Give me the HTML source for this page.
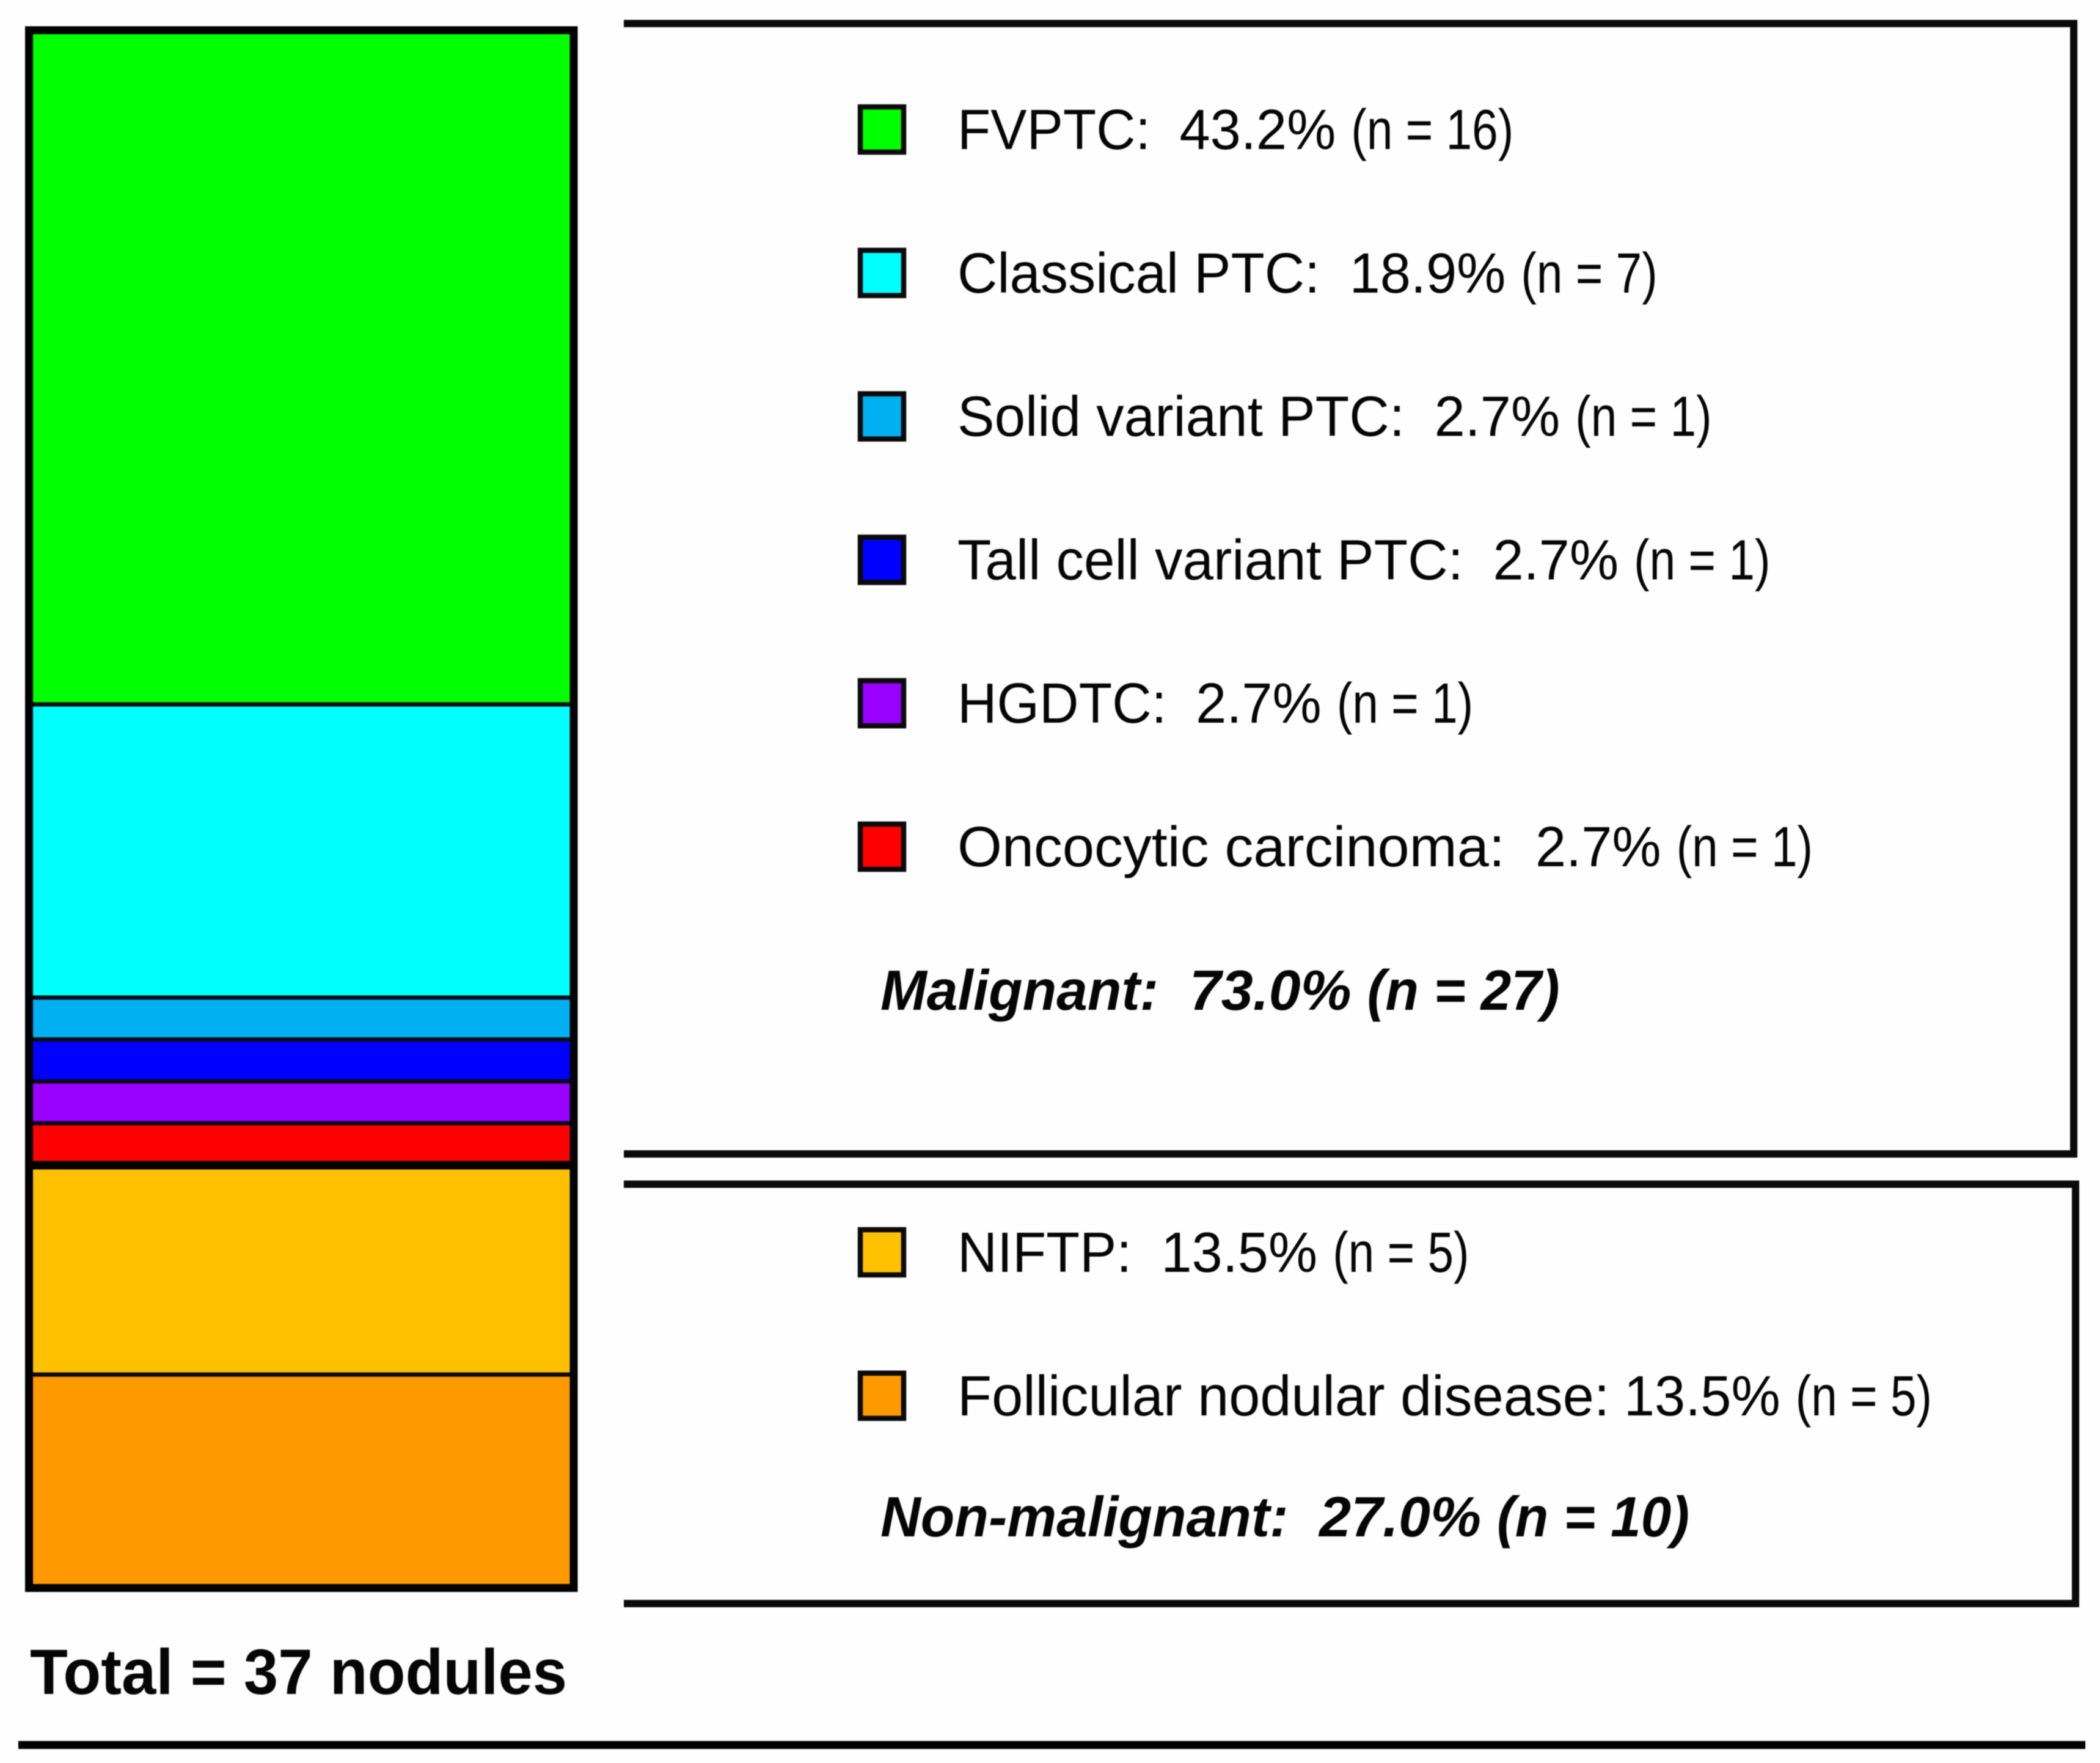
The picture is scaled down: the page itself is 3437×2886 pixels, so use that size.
<!DOCTYPE html>
<html lang="en">
<head>
<meta charset="utf-8">
<title>Histology of 37 nodules</title>
<style>
html,body{margin:0;padding:0;background:#fefefe;width:3437px;height:2886px;overflow:hidden}
svg{display:block;filter:blur(0.9px)}
text{font-family:"Liberation Sans",Arial,sans-serif;fill:#050505;white-space:pre}
</style>
</head>
<body>
<svg id="chart" xmlns="http://www.w3.org/2000/svg" width="3437" height="2886" viewBox="0 0 3437 2886">
  <rect x="0" y="0" width="3437" height="2886" fill="#fefefe"/>
  <g id="bar-segments"></g>
  <rect x="47.5" y="49.5" width="891.5" height="2550" fill="none" stroke="#020205" stroke-width="13"/>
  <polyline points="1021,38.5 3394,38.5 3394,1889 1021,1889" fill="none" stroke="#0a0a0a" stroke-width="12"/>
  <polyline points="1021,1938.5 3397,1938.5 3397,2625 1021,2625" fill="none" stroke="#0a0a0a" stroke-width="12"/>
  <g id="legend"></g>
  <g id="summaries"></g>
  <text transform="translate(49,2773) scale(0.965,1)" font-size="105" font-weight="700">Total = 37 nodules</text>
  <rect x="30" y="2850" width="3383" height="13" fill="#000"/>
</svg>
<script>
// Chart data
const categories = ["FVPTC", "Classical PTC", "Solid variant PTC", "Tall cell variant PTC", "HGDTC", "Oncocytic carcinoma", "NIFTP", "Follicular nodular disease"];
const counts = [16, 7, 1, 1, 1, 1, 5, 5];
const percentLabels = ["43.2%", "18.9%", "2.7%", "2.7%", "2.7%", "2.7%", "13.5%", "13.5%"];
const colors = ["#00ff00", "#00ffff", "#00b0f0", "#0000ff", "#9900ff", "#ff0000", "#ffc000", "#ff9900"];
const groupOfCategory = [0, 0, 0, 0, 0, 0, 1, 1];
const labelSpacers = ["  ", "  ", "  ", "  ", "  ", "  ", "  ", " "];
const groupNames = ["Malignant", "Non-malignant"];
const groupPercentLabels = ["73.0%", "27.0%"];
const groupCounts = [27, 10];

// Typography tuning (not data): horizontal condensing of each legend label
const labelStretch = [0.956, 0.973, 0.977, 0.977, 0.961, 1.008, 0.969, 0.988];

const NS = "http://www.w3.org/2000/svg";
const barLeft = 54, barRight = 933, barTop = 56, barBottom = 2593;
const total = counts.reduce(function (a, b) { return a + b; }, 0);

// Axis: cumulative nodule count -> vertical pixel
function yScale(v) { return barTop + (barBottom - barTop) * v / total; }

const barGroup = document.getElementById("bar-segments");
let cumulative = 0;
counts.forEach(function (v, i) {
  const r = document.createElementNS(NS, "rect");
  r.setAttribute("x", barLeft);
  r.setAttribute("y", yScale(cumulative));
  r.setAttribute("width", barRight - barLeft);
  r.setAttribute("height", yScale(cumulative + v) - yScale(cumulative));
  r.setAttribute("fill", colors[i]);
  
  
  barGroup.appendChild(r);
  cumulative += v;
});
cumulative = 0;
counts.forEach(function (v, i) {
  cumulative += v;
  if (i === counts.length - 1) return;
  const boundary = groupOfCategory[i] !== groupOfCategory[i + 1];
  const l = document.createElementNS(NS, "line");
  l.setAttribute("x1", barLeft);
  l.setAttribute("x2", barRight);
  l.setAttribute("y1", yScale(cumulative));
  l.setAttribute("y2", yScale(cumulative));
  l.setAttribute("stroke", boundary ? "#000" : "#0b0b16");
  l.setAttribute("stroke-width", boundary ? 14 : 7);
  
  
  barGroup.appendChild(l);
});

// Text helper: draws a run horizontally condensed by sx and returns the next x
function textRun(parent, str, x, y, sx, bold) {
  const t = document.createElementNS(NS, "text");
  t.setAttribute("transform", "translate(" + x + "," + y + ") scale(" + sx + ",1)");
  t.setAttribute("font-size", 93);
  if (bold) {
    t.setAttribute("font-weight", "700");
    t.setAttribute("font-style", "italic");
  }
  t.setAttribute("xml:space", "preserve");
  t.textContent = str;
  parent.appendChild(t);
  return { el: t, next: x + t.getComputedTextLength() * sx };
}

// Legend rows
const legendGroup = document.getElementById("legend");
const rowBaselines = [244, 2082];
const rowStep = 234.8;
const rowsSeen = [0, 0];
categories.forEach(function (name, i) {
  const g = groupOfCategory[i];
  const base = rowBaselines[g] + rowStep * rowsSeen[g];
  rowsSeen[g] += 1;

  const sw = document.createElementNS(NS, "rect");
  sw.setAttribute("x", 1408);
  sw.setAttribute("y", base - 69);
  sw.setAttribute("width", 71);
  sw.setAttribute("height", 74);
  sw.setAttribute("fill", colors[i]);
  sw.setAttribute("stroke", "#0a0a0a");
  sw.setAttribute("stroke-width", 8.5);
  
  
  legendGroup.appendChild(sw);

  const a = textRun(legendGroup, name + ":" + labelSpacers[i], 1567, base, labelStretch[i], false);
  
  
  const b = textRun(legendGroup, percentLabels[i] + " ", a.next - 2, base, 0.97, false);
  
  
  const c = textRun(legendGroup, "(n = " + counts[i] + ")", b.next, base, 0.823, false);
  
  
});

// Group summaries
const summaryGroup = document.getElementById("summaries");
const summaryBaselines = [1653, 2515];
groupNames.forEach(function (name, i) {
  const base = summaryBaselines[i];
  const a = textRun(summaryGroup, name + ":  ", 1441, base, 0.979, true);
  
  
  const b = textRun(summaryGroup, groupPercentLabels[i] + " ", a.next, base, 1.005, true);
  
  
  const c = textRun(summaryGroup, "(n = " + groupCounts[i] + ")", b.next, base, 0.96, true);
  
  
});
</script>
</body>
</html>
